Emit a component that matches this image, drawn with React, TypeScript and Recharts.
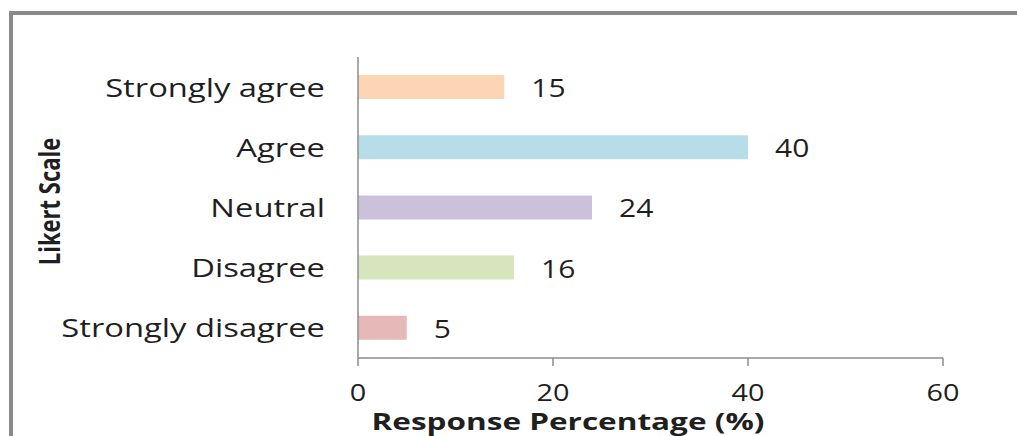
import { BarChart, Bar, XAxis, YAxis, Cell, LabelList, Label } from "recharts";

const likertLevels = ["Strongly agree", "Agree", "Neutral", "Disagree", "Strongly disagree"];
const responsePercent = [15, 40, 24, 16, 5];
const barColors = ["#FCD5B5", "#B7DEE8", "#CCC1DA", "#D7E4BD", "#E6B9B8"];
const percentTicks = [0, 20, 40, 60];
const bandEdges = [0, 1, 2, 3, 4, 5];

const data = likertLevels.map((level, i) => ({ level, value: responsePercent[i] }));

const FONT = "'Open Sans', sans-serif";
const INK = "#1f1f1f";
const AXIS = "#8c8c8c";

// horizontally widened text, used for every label on the chart
const WideText = ({ x, y, anchor, children, size = 24, weight = 400, sx = 1.25 }: any) => (
    <text
        transform={`translate(${x},${y}) scale(${sx},1)`}
        textAnchor={anchor}
        dominantBaseline="central"
        fontFamily={FONT}
        fontSize={size}
        fontWeight={weight}
        fill={INK}
    >
        {children}
    </text>
);

const LevelTick = ({ x, y, payload }: any) => (
    <WideText x={x} y={y} anchor="end" size={25} sx={1.31}>
        {payload.value}
    </WideText>
);

const PercentTick = ({ x, y, payload }: any) => (
    <WideText x={x} y={y} anchor="middle" sx={1.2}>
        {payload.value}
    </WideText>
);

const ValueLabel = ({ x, y, width, height, value }: any) => (
    <WideText x={x + width + 27} y={y + height / 2} anchor="start" size={25} sx={1.2}>
        {value}
    </WideText>
);

const LikertTitle = ({ viewBox }: any) => (
    <text
        transform={`translate(${viewBox.x + 49},${viewBox.y + viewBox.height / 2 - 6}) rotate(-90) scale(1,1.3)`}
        textAnchor="middle"
        dominantBaseline="central"
        fontFamily={FONT}
        fontSize={22}
        fontWeight={700}
        fill={INK}
    >
        Likert Scale
    </text>
);

const PercentTitle = ({ viewBox }: any) => (
    <WideText x={viewBox.x + 210} y={viewBox.y + 63} anchor="middle" size={23} weight={700} sx={1.37}>
        Response Percentage (%)
    </WideText>
);

export default function App() {
    return (
        <div style={{ position: "absolute", left: 0, top: 0, width: 1017, height: 436, overflow: "hidden", background: "#fff" }}>
            <div
                style={{
                    position: "absolute",
                    left: 9,
                    top: 11,
                    width: 1100,
                    height: 500,
                    borderLeft: "4px solid #8a8a8a",
                    borderTop: "4px solid #8a8a8a"
                }}
            />
            <div style={{ position: "absolute", left: 0, top: 0 }}>
                <BarChart
                    width={1017}
                    height={436}
                    data={data}
                    layout="vertical"
                    margin={{ top: 57, right: 74, left: 0, bottom: 0 }}
                >
                    {/* band boundary ticks and the vertical axis line */}
                    <YAxis
                        yAxisId="edges"
                        type="number"
                        domain={[0, 5]}
                        ticks={bandEdges}
                        tick={false}
                        tickSize={12}
                        width={12}
                        axisLine={{ stroke: AXIS, strokeWidth: 1.5 }}
                        tickLine={{ stroke: AXIS, strokeWidth: 1.5 }}
                    />
                    <YAxis
                        yAxisId="levels"
                        type="category"
                        dataKey="level"
                        width={346}
                        axisLine={false}
                        tickLine={false}
                        tickSize={0}
                        tickMargin={21}
                        tick={<LevelTick />}
                    >
                        <Label content={<LikertTitle />} />
                    </YAxis>
                    <XAxis
                        type="number"
                        domain={[0, 60]}
                        ticks={percentTicks}
                        height={78}
                        tickSize={8}
                        tickMargin={26}
                        axisLine={{ stroke: AXIS, strokeWidth: 1.5 }}
                        tickLine={{ stroke: AXIS, strokeWidth: 1.5 }}
                        tick={<PercentTick />}
                    >
                        <Label content={<PercentTitle />} />
                    </XAxis>
                    <Bar yAxisId="levels" dataKey="value" barSize={24} isAnimationActive={false}>
                        {data.map((d, i) => (
                            <Cell key={d.level} fill={barColors[i]} />
                        ))}
                        <LabelList dataKey="value" content={<ValueLabel />} />
                    </Bar>
                </BarChart>
            </div>
        </div>
    );
}
